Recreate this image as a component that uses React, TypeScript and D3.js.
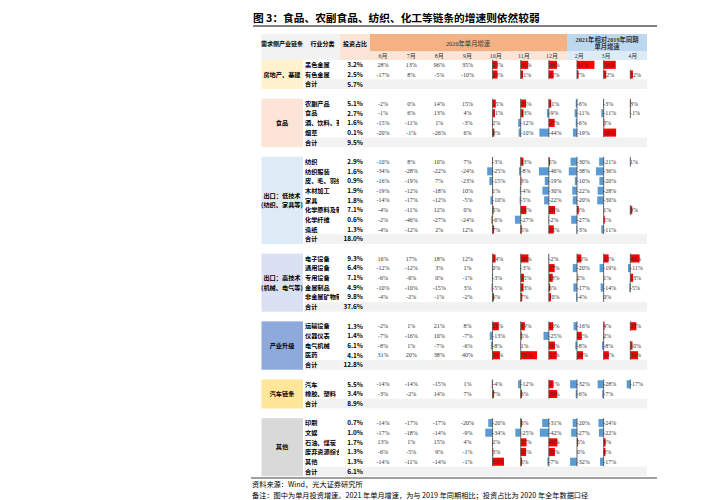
import React from 'react';
import * as d3 from 'd3';

const title = '图 3：食品、农副食品、纺织、化工等链条的增速则依然较弱';
const groupNames = [
  ['房地产、基建'],
  ['食品'],
  ['出口：低技术', '(纺织、家具等)'],
  ['出口：高技术', '(机械、电气等)'],
  ['产业升级'],
  ['汽车链条'],
  ['其他'],
];
const groupColors = ['#FFF2CC', '#FCE4D6', '#DDEBF7', '#D9E1F2', '#8EA9DB', '#FFE699', '#D9D9D9'];

const industryNames = [
  ['黑色金属', '有色金属'],
  ['农副产品', '食品', '酒、饮料、茶', '烟草'],
  ['纺织', '纺织服装', '皮、毛、羽绒', '木材加工', '家具', '化学原料及制品', '化学纤维', '造纸'],
  ['电子设备', '通用设备', '专用设备', '金属制品', '非金属矿物制品'],
  ['运输设备', '仪器仪表', '电气机械', '医药'],
  ['汽车', '橡胶、塑料'],
  ['印刷', '文娱', '石油、煤炭', '废弃资源综合利用', '其他'],
];
const shares = [
  [3.2, 2.5],
  [5.1, 2.7, 1.6, 0.1],
  [2.9, 1.6, 0.9, 1.9, 1.8, 7.1, 0.6, 1.3],
  [9.3, 6.4, 7.1, 4.9, 9.8],
  [1.3, 1.4, 6.1, 4.1],
  [5.5, 3.4],
  [0.7, 1.0, 1.7, 1.3, 1.3],
];
const totals = [5.7, 9.5, 18.0, 37.6, 12.8, 8.9, 6.1];

const months2020 = ['6月', '7月', '8月', '9月', '10月', '11月', '12月'];
const months2021 = ['2月', '3月', '4月'];

// 6月..12月 (2020), 2月..4月 (2021 vs 2019)
const growth: (number | null)[][][] = [
  [
    [28, 13, 96, 35, 23, 35, 38, 81, 56, null],
    [-17, 8, -5, -10, 23, 11, 22, 7, 12, 12],
  ],
  [
    [-2, 0, 14, 15, 15, 25, 11, -6, -3, 3],
    [-1, 6, 13, 4, 11, 13, -9, -11, -11, -1],
    [-15, -11, 1, -3, 2, -12, 27, -6, 3, null],
    [-20, -1, -26, 6, 8, -10, -44, -19, 58, null],
  ],
  [
    [-10, 8, 10, 7, -3, 13, 5, -30, -21, 1],
    [-34, -28, -22, -24, -25, -8, -46, -38, -36, null],
    [-16, -19, 7, -23, -15, 3, -19, -10, -20, null],
    [-19, -12, -18, 10, 1, -4, -30, -22, -28, null],
    [-14, -17, -12, -5, -10, -5, -22, -20, -30, null],
    [-4, -11, 12, 0, 5, 26, 29, 8, 1, 9],
    [-2, -46, -27, -24, -6, -27, -2, -27, 5, null],
    [-4, -12, 2, 12, 7, 5, 23, -3, -11, null],
  ],
  [
    [16, 17, 18, 12, 14, 36, -2, 20, 23, 43],
    [-12, -12, 3, 1, 0, -3, 27, -20, -19, -11],
    [-6, -6, 0, -1, -3, 15, 18, 2, 1, 13],
    [-10, -10, -15, 3, -5, 13, 6, -17, -14, -5],
    [-4, -2, -1, -2, 6, 7, 10, -4, 0, null],
  ],
  [
    [-2, 1, 21, 8, 29, 19, 20, -16, 4, 28],
    [-7, -16, 10, -7, -13, 5, -25, 22, 2, null],
    [-8, 1, -7, -6, -8, 1, 28, -8, -8, 10],
    [31, 20, 38, 40, 34, 76, 37, 28, 24, 36],
  ],
  [
    [-14, -14, -15, 1, -4, -12, 21, -32, -28, -17],
    [-3, -2, 14, 7, 7, 6, 39, -6, -7, null],
  ],
  [
    [-14, -17, -17, -20, -20, 6, -31, -20, -24, null],
    [-17, -18, -14, -9, -34, -25, -42, -27, -22, null],
    [13, 1, 15, 4, 2, 27, 40, 5, 9, null],
    [-6, -5, 9, -1, 3, 25, 28, 0, 8, null],
    [-14, -11, -14, -1, 53, 6, -7, -32, -17, null],
  ],
];

const source = '资料来源：Wind，光大证券研究所';
const note = '备注：图中为单月投资增速。2021 年单月增速，为与 2019 年同期相比；投资占比为 2020 年全年数据口径';

const sans = '"Noto Sans CJK SC", "Noto Sans", sans-serif';
const serif = '"Liberation Serif", "Noto Sans CJK SC", serif';

type Row = { total: boolean; g: number; name: string; share: number; vals: (number | null)[]; idx: number };

const App = () => {
  const rows: Row[] = [];
  const boxes: { g: number; start: number; end: number }[] = [];
  let idx = 0;
  groupNames.forEach((_, g) => {
    const start = idx;
    industryNames[g].forEach((n, i) => {
      rows.push({ total: false, g, name: n, share: shares[g][i], vals: growth[g][i], idx: idx++ });
    });
    rows.push({ total: true, g, name: '合计', share: totals[g], vals: [], idx: idx++ });
    boxes.push({ g, start, end: idx });
    idx++;
  });
  const nRows = idx - 1;

  const rowH = 9.68;
  const y = d3.scaleLinear().domain([0, nRows]).range([60, 60 + nRows * rowH]);
  const x2020 = d3.scaleBand().domain(months2020).range([370, 567]);
  const x2021 = d3.scaleBand().domain(months2021).range([567, 647]);
  const bar = d3.scaleLinear().domain([0, 100]).range([0, 21.5]);

  const allMonths = [...months2020, ...months2021];
  const colStart = (k: number) => (k < 7 ? x2020(allMonths[k])! : x2021(allMonths[k])!);
  const colW = (k: number) => (k < 7 ? x2020.bandwidth() : x2021.bandwidth());

  return (
    <svg width={707} height={500} style={{ position: 'absolute', left: 0, top: 0, background: '#fff' }}>
      <defs>
        <clipPath id="nameClip">
          <rect x={303} y={55} width={36} height={430} />
        </clipPath>
      </defs>
      <text x={253} y={22} fontFamily={sans} fontWeight={700} fontSize={10.7} fill="#000">{title}</text>
      <line x1={253} x2={657} y1={26} y2={26} stroke="#808080" strokeWidth={2} />

      {/* header */}
      <rect x={261.5} y={34} width={78.5} height={26} fill="#F2F2F2" />
      <rect x={340} y={34} width={30} height={26} fill="#FCE4D6" />
      <rect x={370} y={34} width={197} height={17.5} fill="#F4B183" />
      <rect x={370} y={51.5} width={197} height={8.5} fill="#FCE4D6" />
      <rect x={567} y={34} width={80} height={17.5} fill="#BDD7EE" />
      <rect x={567} y={51.5} width={80} height={8.5} fill="#DDEBF7" />
      <g fontFamily={sans} fontWeight={700} fontSize={6} fill="#000" textAnchor="middle">
        <text x={282} y={45.5}>需求侧产业链条</text>
        <text x={322.5} y={45.5}>行业分类</text>
        <text x={355} y={45.5}>投资占比</text>
      </g>
      <g fontFamily={serif} fontSize={6.3} fill="#333" textAnchor="middle">
        <text x={468} y={45.5}>2020年单月增速</text>
        <text x={607} y={41.5} fontWeight={700}>2021年相对2019年同期</text>
        <text x={607} y={49} fontWeight={700}>单月增速</text>
        {allMonths.map((m, k) => (
          <text key={m + k} x={colStart(k) + colW(k) / 2 - 1} y={58.3} fontSize={6}>{m}</text>
        ))}
      </g>

      {/* group boxes */}
      {boxes.map(b => {
        const top = y(b.start);
        const h = y(b.end) - y(b.start);
        const lines = groupNames[b.g];
        return (
          <g key={b.g}>
            <rect x={261.5} y={top} width={41.5} height={h} fill={groupColors[b.g]} />
            {lines.map((l, i) => (
              <text key={i} x={282} y={top + h / 2 + (i - (lines.length - 1) / 2) * 9.5} dy="0.35em"
                textAnchor="middle" fontFamily={sans} fontWeight={700} fontSize={6.2} fill="#000">{l}</text>
            ))}
          </g>
        );
      })}

      {/* rows */}
      {rows.map(r => {
        const top = y(r.idx);
        const mid = top + rowH / 2;
        return (
          <g key={r.idx}>
            {r.total && <rect x={305} y={top} width={342} height={rowH} fill="#F2F2F2" />}
            <text x={305} y={mid} dy="0.36em" fontFamily={sans} fontWeight={700} fontSize={6.2} fill="#000"
              clipPath="url(#nameClip)">{r.name}</text>
            <text x={363} y={mid} dy="0.36em" textAnchor="end" fontFamily={sans} fontWeight={700} fontSize={6.4}
              fill="#000">{r.share.toFixed(1)}%</text>
            {r.vals.map((v, k) => {
              if (v === null) return null;
              if (k < 4) {
                return (
                  <text key={k} x={colStart(k) + colW(k) / 2 - 1} y={mid} dy="0.35em" textAnchor="middle"
                    fontFamily={serif} fontSize={6} fill="#333">{v}%</text>
                );
              }
              const ax = colStart(k) + 10;
              const len = bar(Math.abs(v));
              return (
                <g key={k}>
                  <rect x={v >= 0 ? ax : ax - len} y={top + 0.8} width={len} height={rowH - 1.6}
                    fill={v >= 0 ? '#FF0000' : '#5B9BD5'} />
                  <line x1={ax} x2={ax} y1={top} y2={top + rowH} stroke="#444" strokeWidth={0.8} />
                  <text x={ax - 0.3} y={mid} dy="0.35em" fontFamily={serif} fontSize={6} fill="#333">{v}%</text>
                </g>
              );
            })}
          </g>
        );
      })}

      <line x1={251} x2={657} y1={478} y2={478} stroke="#808080" strokeWidth={1.5} />
      <text x={252} y={487} fontFamily={sans} fontSize={7.2} fill="#000">{source}</text>
      <text x={252} y={498} fontFamily={sans} fontSize={7.2} fill="#000">{note}</text>
    </svg>
  );
};

export default App;
